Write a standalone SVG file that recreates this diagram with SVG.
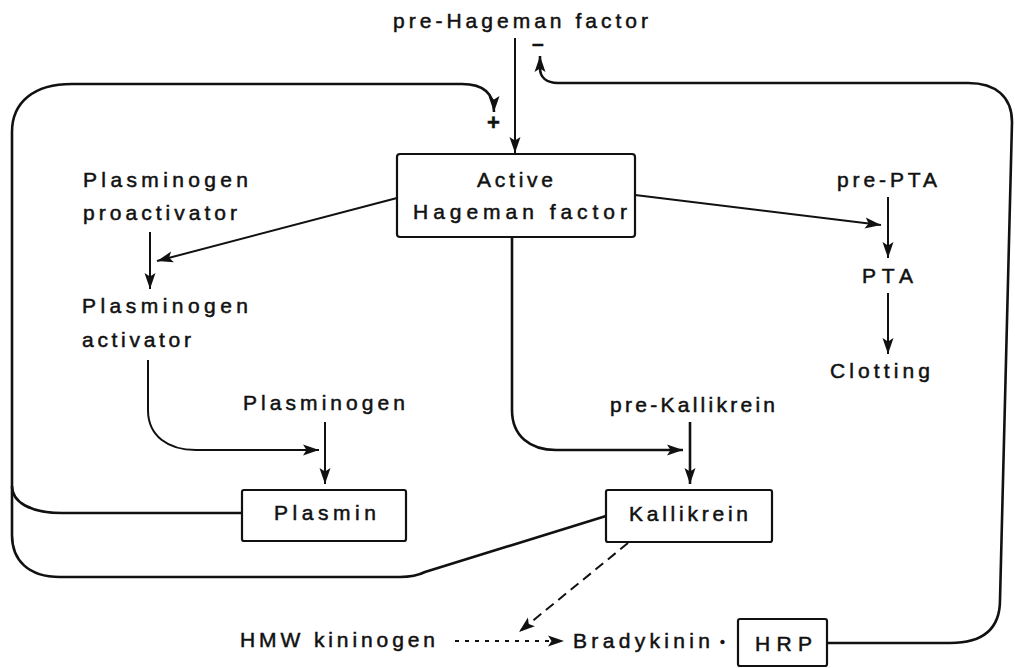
<svg xmlns="http://www.w3.org/2000/svg" width="1015" height="668" viewBox="0 0 1015 668">
<style>
.t{font-family:"Liberation Sans",Arial,sans-serif;font-size:21px;fill:#111;stroke:#111;stroke-width:0.5}
.box{fill:#fff;stroke:#111;stroke-width:2.2}
.c{fill:none;stroke:#111;stroke-width:2}
.thick{stroke-width:2.6}
.d{stroke-dasharray:10 6}
.dt{stroke-dasharray:4 6}
</style>
<defs>
<marker id="ah" markerUnits="userSpaceOnUse" markerWidth="18" markerHeight="12" refX="16" refY="6" orient="auto">
<path d="M0,0.5 L16,6 L0,11.5 L3.5,6 z" fill="#111"/>
</marker>
</defs>
<rect width="1015" height="668" fill="#fff"/>
<g id="connectors">
<path class="c" d="M515,38 V153" marker-end="url(#ah)"/>
<path class="c thick" d="M242,513 H62 C30,513 12,502 12,486"/>
<path class="c thick" d="M606,516 L425,572 Q415,577 400,577 H60 C28,577 12,560 12,535 V132 C12,102 34,84 72,84 H462 C484,84 494,94 494,112" marker-end="url(#ah)"/>
<path class="c thick" d="M827,643 H950 C984,643 1000,628 1000,600 L1012,122 C1012,97 996,83 968,83 H558 C546,83 540,77 540,68 V56" marker-end="url(#ah)"/>
<path class="c" d="M397,198 L157,261" marker-end="url(#ah)"/>
<path class="c" d="M150,232 V289" marker-end="url(#ah)"/>
<path class="c" d="M635,195 L881,225" marker-end="url(#ah)"/>
<path class="c" d="M888,197 V258" marker-end="url(#ah)"/>
<path class="c" d="M888,293 V354" marker-end="url(#ah)"/>
<path class="c" d="M148,360 V410 C148,436 168,450 196,450 H319" marker-end="url(#ah)"/>
<path class="c" d="M325,422 V484" marker-end="url(#ah)"/>
<path class="c thick" d="M512,237 V410 C512,436 530,450 556,450 H683" marker-end="url(#ah)"/>
<path class="c thick" d="M690,422 V484" marker-end="url(#ah)"/>
<path class="c d" d="M628,543 L519,632" marker-end="url(#ah)"/>
<path class="c dt" d="M455,641 H564" marker-end="url(#ah)"/>
</g>
<g id="pre-hageman"><text class="t" x="393" y="28" textLength="255" lengthAdjust="spacing">pre-Hageman factor</text></g>
<g id="active-hageman">
<rect class="box" x="397" y="154" width="238" height="83" rx="3"/>
<text class="t" x="477" y="187" textLength="76" lengthAdjust="spacing">Active</text>
<text class="t" x="413" y="219" textLength="214" lengthAdjust="spacing">Hageman factor</text>
</g>
<g id="signs">
<text class="t" x="487" y="130" style="font-weight:bold;font-size:22px">+</text>
<text class="t" x="532" y="50" style="font-weight:bold">–</text>
</g>
<g id="proactivator">
<text class="t" x="83" y="187" textLength="165" lengthAdjust="spacing">Plasminogen</text>
<text class="t" x="83" y="220" textLength="154" lengthAdjust="spacing">proactivator</text>
</g>
<g id="activator">
<text class="t" x="82" y="313" textLength="166" lengthAdjust="spacing">Plasminogen</text>
<text class="t" x="82" y="347" textLength="109" lengthAdjust="spacing">activator</text>
</g>
<g id="plasminogen"><text class="t" x="243" y="410" textLength="162" lengthAdjust="spacing">Plasminogen</text></g>
<g id="plasmin">
<rect class="box" x="242" y="490" width="164" height="51" rx="2"/>
<text class="t" x="274" y="520" textLength="102" lengthAdjust="spacing">Plasmin</text>
</g>
<g id="pre-kallikrein"><text class="t" x="610" y="412" textLength="165" lengthAdjust="spacing">pre-Kallikrein</text></g>
<g id="kallikrein">
<rect class="box" x="606" y="490" width="166" height="52" rx="2"/>
<text class="t" x="629" y="521" textLength="119" lengthAdjust="spacing">Kallikrein</text>
</g>
<g id="pre-pta"><text class="t" x="837" y="187" textLength="100" lengthAdjust="spacing">pre-PTA</text></g>
<g id="pta"><text class="t" x="862" y="283" textLength="51" lengthAdjust="spacing">PTA</text></g>
<g id="clotting"><text class="t" x="830" y="378" textLength="100" lengthAdjust="spacing">Clotting</text></g>
<g id="hmw"><text class="t" x="240" y="647" textLength="195" lengthAdjust="spacing">HMW kininogen</text></g>
<g id="bradykinin">
<text class="t" x="573" y="648" textLength="137" lengthAdjust="spacing">Bradykinin</text>
<text class="t" x="720" y="647" style="font-size:14px">•</text>
</g>
<g id="hrp">
<rect class="box" x="738" y="619" width="89" height="47" rx="2"/>
<text class="t" x="755" y="651" textLength="57" lengthAdjust="spacing">HRP</text>
</g>
</svg>
